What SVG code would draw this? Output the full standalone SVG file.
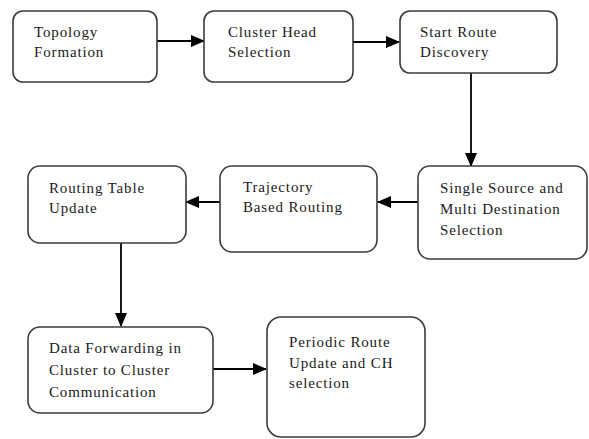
<svg xmlns="http://www.w3.org/2000/svg" width="589" height="439" viewBox="0 0 589 439">
<style>
.box{fill:#fff;stroke:#3c3c3c;stroke-width:1.6}
.t{font-family:"Liberation Serif","Times New Roman",serif;font-size:15px;letter-spacing:0.85px;fill:#1a1a1a}
.c{stroke:#000;stroke-width:1.8;fill:none;marker-end:url(#ah)}
</style>
<defs>
<marker id="ah" viewBox="0 0 14 12" refX="13" refY="6" markerWidth="14" markerHeight="12" markerUnits="userSpaceOnUse" orient="auto">
<path d="M0,0 L14,6 L0,12 Z" fill="#000"/>
</marker>
</defs>
<rect width="589" height="439" fill="#fff"/>
<g id="connectors">
<line class="c" x1="157" y1="41" x2="204" y2="41"/>
<line class="c" x1="353" y1="42" x2="399" y2="42"/>
<line class="c" x1="471" y1="73" x2="471" y2="166"/>
<line class="c" x1="418" y1="202" x2="378" y2="202"/>
<line class="c" x1="220" y1="202" x2="186" y2="202"/>
<line class="c" x1="121" y1="243" x2="121" y2="326"/>
<line class="c" x1="213" y1="369" x2="266" y2="369"/>
</g>
<g id="n1"><rect class="box" x="13" y="11" width="144" height="71" rx="10"/>
<text class="t" x="34" y="37">Topology</text><text class="t" x="34" y="57">Formation</text></g>
<g id="n2"><rect class="box" x="204" y="11" width="149" height="71" rx="10"/>
<text class="t" x="228" y="37">Cluster Head</text><text class="t" x="228" y="57">Selection</text></g>
<g id="n3"><rect class="box" x="400" y="11" width="157" height="62" rx="10"/>
<text class="t" x="420" y="37">Start Route</text><text class="t" x="420" y="57">Discovery</text></g>
<g id="n4"><rect class="box" x="418" y="166" width="169" height="93" rx="12"/>
<text class="t" x="440" y="193">Single Source and</text><text class="t" x="440" y="214">Multi Destination</text><text class="t" x="440" y="235">Selection</text></g>
<g id="n5"><rect class="box" x="220" y="166" width="157" height="86" rx="12"/>
<text class="t" x="243" y="192">Trajectory</text><text class="t" x="243" y="212">Based Routing</text></g>
<g id="n6"><rect class="box" x="28" y="166" width="158" height="77" rx="12"/>
<text class="t" x="49" y="193">Routing Table</text><text class="t" x="49" y="213">Update</text></g>
<g id="n7"><rect class="box" x="28" y="327" width="185" height="86" rx="12"/>
<text class="t" x="49" y="353">Data Forwarding in</text><text class="t" x="49" y="375">Cluster to Cluster</text><text class="t" x="49" y="397">Communication</text></g>
<g id="n8"><rect class="box" x="267" y="317" width="158" height="120" rx="14"/>
<text class="t" x="289" y="347">Periodic Route</text><text class="t" x="289" y="368">Update and CH</text><text class="t" x="289" y="388">selection</text></g>
</svg>
